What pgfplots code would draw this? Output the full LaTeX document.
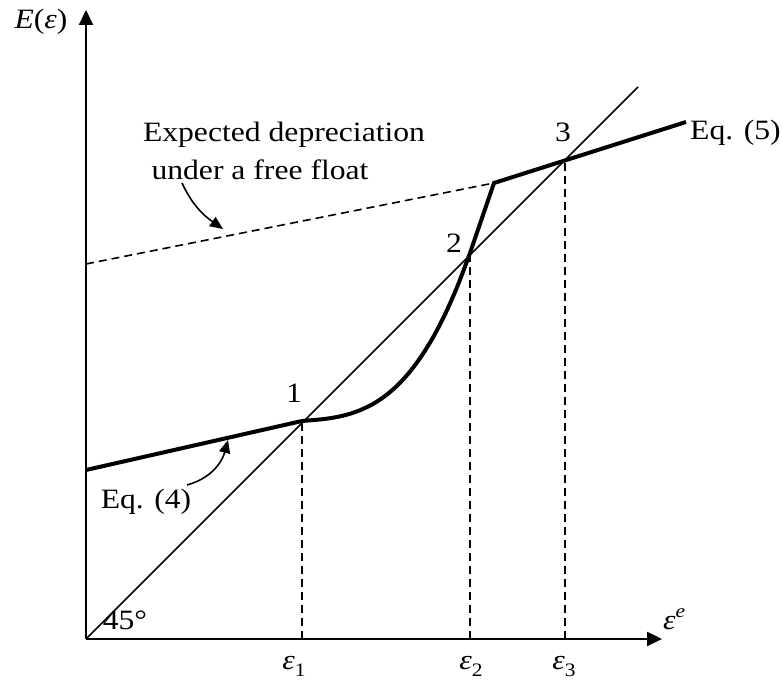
\documentclass[border=0pt]{standalone}
\usepackage{pgfplots}
\pgfplotsset{compat=1.18}
\usepackage{fontspec}
\setmainfont{Liberation Serif}
\usepackage{graphicx}
\usetikzlibrary{arrows.meta}
\newcommand\T[1]{\scalebox{1.13}[1]{\fontsize{28}{33}\selectfont #1}}
\newcommand\sub[1]{\raisebox{-7pt}{\fontsize{19}{21}\selectfont #1}}
\newcommand\eps{\textit{ε}}
\begin{document}
\begin{tikzpicture}
\begin{axis}[x=1pt,y=1pt,xmin=-86,xmax=696,ymin=-45,ymax=639,
  hide axis, clip=false, scale only axis]
% bounding frame (invisible)
\addplot[draw=none] coordinates {(-86,-45) (696,639)};
% axes
\addplot[line width=2.2pt,-{Triangle[length=15pt,width=14pt]}] coordinates {(0,0) (0,629)};
\addplot[line width=2.2pt,-{Triangle[length=15pt,width=14pt]}] coordinates {(0,0) (576,0)};
% 45 degree line
\addplot[line width=1.6pt] coordinates {(0,0) (552,552)};
% free float dashed
\addplot[line width=1.6pt, dash pattern=on 8pt off 5pt] coordinates {(0,375) (408,456)};
% vertical dashed
\addplot[line width=1.6pt, dash pattern=on 8pt off 5pt] coordinates {(216,0) (216,217)};
\addplot[line width=1.6pt, dash pattern=on 8pt off 5pt] coordinates {(384,0) (384,384)};
\addplot[line width=1.6pt, dash pattern=on 8pt off 5pt] coordinates {(479,0) (479,479)};
% Eq (4) line
\addplot[line width=4pt] coordinates {(0,169) (216,218)};
% curve
\addplot[line width=4pt, smooth] coordinates {(216,218) (228,219) (240,220.2) (252,222.2) (264,225.2) (276,229.6) (288,235.6) (300,243.7) (312,254.2) (324,267.4) (336,283.7) (348,303.3) (360,326.7) (372,354.2) (384,386)};
% steep segment and Eq (5)
\addplot[line width=4pt, line join=miter] coordinates {(384,386) (408,456) (600,517)};
% annotation arrows
\draw[line width=1.6pt,-{Triangle[length=13pt,width=11pt]}] (axis cs:101,154) to[out=15,in=-105] (axis cs:142,199);
\draw[line width=1.6pt,-{Triangle[length=13pt,width=11pt]}] (axis cs:96,456) to[out=-65,in=145] (axis cs:137,410);
% labels
\node[anchor=east] at (axis cs:-15,617) {\T{\textit{E}(\eps)}};
\node[anchor=base west,inner sep=0pt] at (axis cs:577,9) {\T{\eps\raisebox{12pt}{\fontsize{19}{21}\selectfont\itshape e}}};
\node[anchor=base,inner sep=0pt] at (axis cs:208,-31) {\T{\eps\sub{1}}};
\node[anchor=base,inner sep=0pt] at (axis cs:385,-31) {\T{\eps\sub{2}}};
\node[anchor=base,inner sep=0pt] at (axis cs:478,-31) {\T{\eps\sub{3}}};
\node[anchor=base,inner sep=0pt] at (axis cs:39,9) {\T{45°}};
\node at (axis cs:208,246) {\T{1}};
\node at (axis cs:368,396) {\T{2}};
\node at (axis cs:477,507) {\T{3}};
\node[anchor=west,inner sep=0pt] at (axis cs:604,506) {\T{Eq. (5)}};
\node at (axis cs:60,137) {\T{Eq. (4)}};
\node at (axis cs:198,504) {\T{Expected depreciation}};
\node at (axis cs:174,469) {\T{under a free float}};
\end{axis}
\end{tikzpicture}
\end{document}
